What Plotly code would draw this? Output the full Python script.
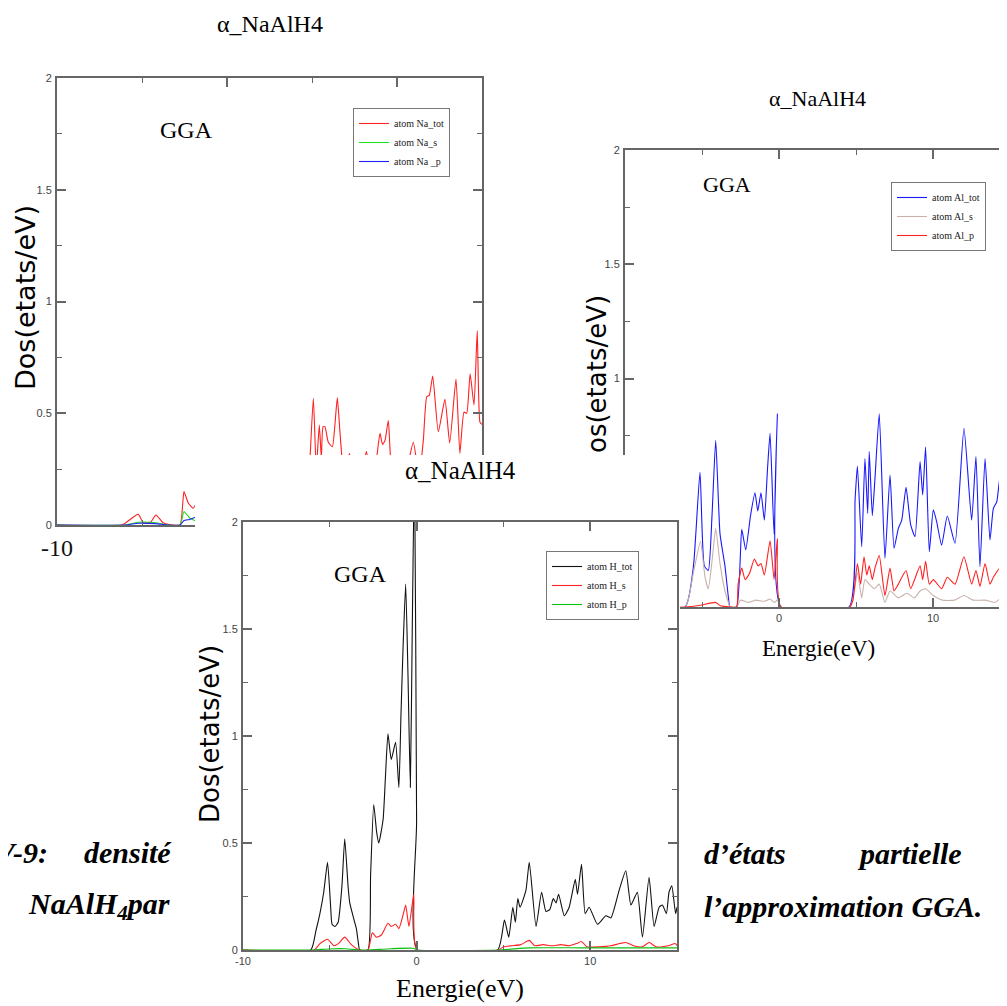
import plotly.graph_objects as go

# ---------------- data (energy in eV, DOS in states/eV) ----------------
na_tot_e = [-10, -6.2, -6.0, -5.6, -5.22, -4.92, -4.5, -4.18, -3.75, -3.2, -2.76, -2.6, -2.53, -2.27, -1.98, -1.69,
            -1.3, -0.9, -0.55, -0.15, 0.05, 4.6, 4.85, 5.08, 5.25, 5.43, 5.55, 5.65, 5.76, 5.96, 6.2, 6.35, 6.49, 6.65,
            6.9, 7.2, 7.6, 8.0, 8.2, 8.5, 8.8, 9.0, 9.15, 9.3, 9.49, 9.7, 10.2, 10.6, 10.96, 11.3, 11.55, 11.75, 11.9,
            12.1, 12.43, 12.82, 13.1, 13.47, 13.7, 13.94, 14.1, 14.3, 14.53, 14.72, 14.88, 15]
na_tot_v = [0, 0, 0.008, 0.03, 0.048, 0.01, 0.012, 0.045, 0.01, 0, 0, 0.10, 0.15, 0.097, 0.075, 0.115,
            0.14, 0.12, 0.2, 0.22, 0, 0, 0.25, 0.567, 0.25, 0.447, 0.3, 0.44, 0.44, 0.37, 0.35, 0.45, 0.57, 0.41,
            0.2, 0.32, 0.2, 0.25, 0.33, 0.2, 0.3, 0.41, 0.36, 0.38, 0.467, 0.25, 0.2, 0.26, 0.37, 0.22, 0.38, 0.574, 0.58,
            0.667, 0.417, 0.562, 0.367, 0.653, 0.32, 0.505, 0.5, 0.676, 0.537, 0.87, 0.46, 0.45]
na_s_e = [-10, -6, -5.22, -4.18, -3.5, -2.76, -2.53, -2.18, -1.69, -1.0, -0.2, 0.05, 4.7, 5.1, 6.5, 8, 9.5, 11, 12.1, 13.5, 14.7, 15]
na_s_v = [0, 0, 0.012, 0.01, 0, 0, 0.06, 0.03, 0.015, 0.02, 0.02, 0, 0, 0.08, 0.07, 0.05, 0.06, 0.05, 0.08, 0.07, 0.1, 0.07]
na_p_e = [-10, -6, -5.22, -4.18, -3.5, -2.76, -2.53, -2.2, -1.69, -1.0, -0.2, 0.05, 4.7, 5.1, 6.5, 8, 9.5, 11, 12.1, 13.5, 14.7, 15]
na_p_v = [0, 0, 0.008, 0.006, 0, 0, 0.02, 0.025, 0.04, 0.05, 0.06, 0, 0, 0.15, 0.15, 0.1, 0.15, 0.12, 0.2, 0.18, 0.3, 0.2]

al_tot_e = [-10, -6.1, -5.56, -5.13, -4.85, -4.59, -4.35, -4.11, -3.83, -3.51, -3.29, -3.18, -2.75, -2.42, -2.16, -1.85,
            -1.56, -1.38, -1.17, -0.95, -0.75, -0.58, -0.32, -0.11, 0.13, 4.55, 4.94, 5.09, 5.37, 5.58, 5.76, 5.86, 6.06,
            6.23, 6.51, 6.88, 7.21, 7.47, 7.75, 7.97, 8.25, 8.55, 8.83, 9.16, 9.33, 9.52, 9.76, 10.02, 10.24, 10.56, 10.93,
            11.43, 12.01, 12.51, 12.79, 13.05, 13.38, 13.7, 13.92, 14.14, 14.35, 14.53, 14.68, 14.79, 15]
al_tot_v = [0, 0, 0.176, 0.59, 0.18, 0.16, 0.4, 0.73, 0.32, 0.18, 0.045, 0, 0, 0.34, 0.25, 0.4,
            0.5, 0.42, 0.5, 0.38, 0.6, 0.76, 0.32, 0.845, 0, 0, 0.47, 0.617, 0.264, 0.65, 0.41, 0.68, 0.40,
            0.56, 0.845, 0.213, 0.578, 0.257, 0.344, 0.38, 0.524, 0.359, 0.308, 0.636, 0.49, 0.70, 0.242, 0.425, 0.373, 0.27, 0.398,
            0.279, 0.782, 0.38, 0.658, 0.176, 0.65, 0.293, 0.432, 0.46, 0.57, 0.337, 0.73, 0.61, 0.5]
al_s_e = [-10, -6.1, -5.56, -5.1, -4.8, -4.59, -4.35, -4.11, -3.83, -3.51, -3.29, -3.18, -2.75, -2.5, -2.0, -1.5, -0.95,
          -0.58, -0.3, -0.11, 0.13, 4.6, 5.09, 5.37, 5.58, 5.86, 6.2, 6.51, 6.88, 7.21, 7.75, 8.3, 8.8, 9.16, 9.52,
          10.02, 10.6, 11.4, 12.01, 12.6, 13.38, 14.0, 14.68, 15]
al_s_v = [0, 0, 0.15, 0.286, 0.13, 0.08, 0.2, 0.344, 0.19, 0.07, 0.02, 0, 0, 0.03, 0.02, 0.03, 0.025,
          0.035, 0.02, 0.03, 0, 0, 0.15, 0.04, 0.12, 0.1, 0.08, 0.1, 0.02, 0.07, 0.04, 0.06, 0.04, 0.07, 0.08,
          0.05, 0.03, 0.03, 0.05, 0.03, 0.03, 0.02, 0.05, 0.04]
al_p_e = [-10, -6.1, -5.1, -4.11, -3.8, -3.18, -2.75, -2.66, -2.42, -2.2, -1.9, -1.6, -1.35, -1.17, -0.95, -0.58, -0.32,
          -0.11, 0.13, 4.6, 4.8, 5.09, 5.3, 5.52, 5.7, 5.86, 6.06, 6.23, 6.51, 6.88, 7.21, 7.47, 7.75, 8.25, 8.55, 9.16,
          9.33, 9.52, 9.76, 10.02, 10.56, 10.93, 11.43, 12.01, 12.51, 12.79, 13.05, 13.38, 13.7, 13.92, 14.35, 14.53, 14.68, 15]
al_p_v = [0, 0, 0.008, 0.02, 0.005, 0, 0, 0.097, 0.17, 0.12, 0.15, 0.21, 0.18, 0.19, 0.14, 0.29, 0.12,
          0.30, 0, 0, 0.03, 0.19, 0.1, 0.22, 0.14, 0.18, 0.12, 0.17, 0.225, 0.05, 0.17, 0.07, 0.1, 0.16, 0.08, 0.18,
          0.12, 0.2, 0.1, 0.12, 0.08, 0.13, 0.1, 0.22, 0.1, 0.16, 0.09, 0.19, 0.1, 0.13, 0.17, 0.1, 0.21, 0.15]

h_tot_e = [-10, -6.1, -5.8, -5.57, -5.35, -5.13, -4.95, -4.87, -4.7, -4.52, -4.3, -4.14, -3.95, -3.85, -3.6, -3.47, -3.35,
           -3.28, -2.8, -2.65, -2.47, -2.3, -2.18, -1.93, -1.8, -1.65, -1.46, -1.21, -1.02, -0.9, -0.79, -0.63, -0.5,
           -0.36, -0.25, -0.12, 0.0, 0.05, 4.67, 5.06, 5.31, 5.54, 5.69, 5.83, 5.96, 6.30, 6.49, 6.88, 7.20, 7.45, 7.68,
           7.87, 8.03, 8.18, 8.51, 8.79, 9.14, 9.27, 9.5, 9.71, 9.94, 10.42, 10.9, 11.19, 11.67, 12.05, 12.34, 12.53,
           12.72, 13.01, 13.39, 13.68, 13.97, 14.16, 14.39, 14.54, 14.7, 14.92, 15]
h_tot_v = [0, 0, 0.09, 0.17, 0.27, 0.41, 0.2, 0.12, 0.11, 0.13, 0.3, 0.52, 0.3, 0.22, 0.14, 0.10, 0.03,
           0, 0, 0.35, 0.68, 0.55, 0.5, 0.61, 0.8, 1.01, 0.89, 0.97, 0.76, 1.1, 1.39, 1.71, 1.3,
           0.76, 1.5, 2.3, 0.6, 0, 0, 0.14, 0.06, 0.20, 0.13, 0.24, 0.20, 0.28, 0.41, 0.11, 0.27, 0.18, 0.19,
           0.24, 0.22, 0.26, 0.16, 0.20, 0.33, 0.26, 0.40, 0.17, 0.20, 0.12, 0.16, 0.15, 0.28, 0.37, 0.21, 0.24,
           0.27, 0.06, 0.34, 0.11, 0.20, 0.21, 0.17, 0.27, 0.30, 0.17, 0.2]
h_s_e = [-10, -5.9, -5.57, -5.13, -4.77, -4.5, -4.14, -3.76, -3.3, -2.8, -2.55, -2.32, -2.03, -1.65, -1.46, -1.21, -1.02,
         -0.79, -0.63, -0.44, -0.16, 0.02, 4.7, 5.0, 5.5, 6.0, 6.49, 6.8, 7.3, 7.8, 8.3, 8.8, 9.2, 9.5, 9.8, 10.5,
         11.2, 11.7, 12.05, 12.5, 13.0, 13.4, 13.8, 14.5, 14.9, 15]
h_s_v = [0, 0, 0.03, 0.05, 0.02, 0.03, 0.06, 0.025, 0, 0, 0.08, 0.06, 0.07, 0.125, 0.11, 0.12, 0.10,
         0.16, 0.21, 0.11, 0.26, 0, 0, 0.015, 0.02, 0.025, 0.045, 0.02, 0.025, 0.02, 0.025, 0.02, 0.03, 0.04, 0.015, 0.015,
         0.02, 0.03, 0.035, 0.02, 0.015, 0.035, 0.015, 0.02, 0.03, 0.02]
h_p_e = [-10, -6, -5.1, -4.1, -3.3, -2.8, -1.5, -0.2, 0.05, 4.7, 6.5, 9.5, 12, 15]
h_p_v = [0, 0, 0.005, 0.006, 0, 0, 0.006, 0.008, 0, 0, 0.01, 0.01, 0.01, 0.01]

energy_ticks = [-10, 0, 10]
energy_ticktext = ["-10", "0", "10"]
panel_title = "α_NaAlH4"
method_label = "GGA"

# ---------------- figure ----------------
W, H = 1007, 1006
OFF = 8  # the page body puts the figure 8 px in from the top-left corner
SERIF = "Liberation Serif"
SANS = "Liberation Sans"


def px(x):
    return (x - OFF) / W


def py(y):
    return 1 - (y - OFF) / H


fig = go.Figure()


def add(e, v, name, color, ax, legend):
    fig.add_trace(go.Scatter(x=e, y=v, name=name, mode="lines",
                             line=dict(color=color, width=1.1, shape="spline", smoothing=0.5),
                             xaxis=ax[0], yaxis=ax[1], legend=legend, hoverinfo="skip"))


add(na_tot_e, na_tot_v, "atom Na_tot", "#ff2020", ("x", "y"), "legend")
add(na_s_e, na_s_v, "atom Na_s", "#20e020", ("x", "y"), "legend")
add(na_p_e, na_p_v, "atom Na _p", "#2020ff", ("x", "y"), "legend")

add(al_tot_e, al_tot_v, "atom Al_tot", "#1818ff", ("x2", "y2"), "legend2")
add(al_s_e, al_s_v, "atom Al_s", "#c9b1ab", ("x2", "y2"), "legend2")
add(al_p_e, al_p_v, "atom Al_p", "#ff2020", ("x2", "y2"), "legend2")

# empty subplot that acts as the white sheet of the third picture
fig.add_trace(go.Scatter(x=[None], y=[None], xaxis="x3", yaxis="y3", showlegend=False, hoverinfo="skip"))

add(h_tot_e, h_tot_v, "atom H_tot", "#111111", ("x4", "y4"), "legend3")
add(h_s_e, h_s_v, "atom H_s", "#ff2020", ("x4", "y4"), "legend3")
add(h_p_e, h_p_v, "atom H_p", "#10c010", ("x4", "y4"), "legend3")

AXC = "#666666"


def xax(domain, rng, anchor, tickfont):
    return dict(domain=domain, range=rng, anchor=anchor, showline=True, linecolor=AXC, linewidth=2,
                mirror="ticks", ticks="inside", ticklen=9, tickwidth=1.5, tickcolor=AXC,
                tickmode="array", tickvals=energy_ticks, ticktext=energy_ticktext,
                minor=dict(ticks="inside", ticklen=5, tickwidth=1.2, tickcolor=AXC, dtick=5, tick0=-10),
                showgrid=False, zeroline=False, tickfont=tickfont, fixedrange=True, automargin=False)


def yax(domain, anchor):
    return dict(domain=domain, range=[0, 2], anchor=anchor, showline=True, linecolor=AXC, linewidth=2,
                mirror="ticks", ticks="inside", ticklen=9, tickwidth=1.5, tickcolor=AXC,
                dtick=0.5, tick0=0,
                minor=dict(ticks="inside", ticklen=5, tickwidth=1.2, tickcolor=AXC, dtick=0.25),
                showgrid=False, zeroline=False, tickfont=dict(family=SANS, size=11, color="#444"),
                fixedrange=True, ticklabelstandoff=1, automargin=False)


small = dict(family=SANS, size=11, color="#444")

fig.update_layout(
    width=W, height=H, margin=dict(l=0, r=0, t=0, b=0, pad=0, autoexpand=False),
    paper_bgcolor="white", plot_bgcolor="white",
    xaxis=xax([px(57), px(482)], [-10, 15], "y", dict(family=SERIF, size=24, color="#111")),
    yaxis=yax([py(525), py(78)], "x"),
    xaxis2=xax([px(625), px(1010)], [-10, 15], "y2", small),
    yaxis2=yax([py(607), py(150)], "x2"),
    xaxis3=dict(domain=[px(195), px(680)], anchor="y3", showline=False, showticklabels=False, ticks="",
                showgrid=False, zeroline=False, range=[0, 1], fixedrange=True),
    yaxis3=dict(domain=[0, py(455)], anchor="x3", showline=False, showticklabels=False, ticks="",
                showgrid=False, zeroline=False, range=[0, 1], fixedrange=True),
    xaxis4=xax([px(243), px(677)], [-10, 15], "y4", small),
    yaxis4=yax([py(950), py(522)], "x4"),
    showlegend=True,
)

leg = dict(xanchor="left", yanchor="top", bgcolor="white", bordercolor="#777", borderwidth=1,
           font=dict(family=SERIF, size=10, color="#222"), itemwidth=30, tracegroupgap=0)
fig.update_layout(
    legend=dict(leg, x=px(353), y=py(108)),
    legend2=dict(leg, x=px(891), y=py(182)),
    legend3=dict(leg, x=px(546), y=py(551)),
)


def ann(text, x, y, size, family=SERIF, angle=0, xanchor="center", yanchor="middle", **font_kw):
    fig.add_annotation(text=text, x=px(x), y=py(y), xref="paper", yref="paper", showarrow=False,
                       xanchor=xanchor, yanchor=yanchor, textangle=angle,
                       font=dict(family=family, size=size, color="#000", **font_kw))


# panel titles
ann(panel_title, 270, 24, 24)
ann(panel_title, 817, 98, 22)
ann(panel_title, 460, 470, 25)
# method labels
ann(method_label, 186, 130, 24)
ann(method_label, 727, 184, 22)
ann(method_label, 360, 574, 24)
# axis titles
ann("Dos(etats/eV)", 25, 298, 27, family="DejaVu Sans", angle=-90)
ann("os(etats/eV)", 597, 455, 26, family="DejaVu Sans", angle=-90, yanchor="bottom")
ann("Dos(etats/eV)", 210, 734, 26, family="DejaVu Sans", angle=-90)
ann("Energie(eV)", 818, 648, 23)
ann("Energie(eV)", 460, 988, 26)

# caption text behind the pictures (visible parts)
cap = dict(weight="bold", style="italic")
ann("IV-9:", 50, 852, 30, xanchor="right", **cap)
ann("densité", 82, 852, 30, xanchor="left", **cap)
ann("NaAlH<sub>4</sub>par", 172, 906, 30, xanchor="right", **cap)
ann("d’états", 702, 853, 30, xanchor="left", **cap)
ann("partielle", 855, 853, 30, xanchor="left", **cap)
ann("l’approximation GGA.", 702, 906, 30, xanchor="left", **cap)

fig.write_html("out.html")
